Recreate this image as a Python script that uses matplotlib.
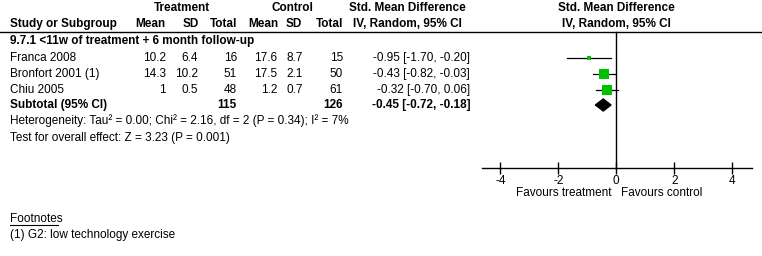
import matplotlib
matplotlib.use("Agg")
import matplotlib.pyplot as plt
from matplotlib.patches import Polygon

plt.rcParams['font.family'] = ['Liberation Sans', 'DejaVu Sans']

studies = ["Franca 2008", "Bronfort 2001 (1)", "Chiu 2005"]
t_mean = ["10.2", "14.3", "1"]
t_sd = ["6.4", "10.2", "0.5"]
t_n = [16, 51, 48]
c_mean = ["17.6", "17.5", "1.2"]
c_sd = ["8.7", "2.1", "0.7"]
c_n = [15, 50, 61]
smd = [-0.95, -0.43, -0.32]
lo = [-1.70, -0.82, -0.70]
hi = [-0.20, -0.03, 0.06]
weight = [17.0, 40.0, 44.0]
sub_smd, sub_lo, sub_hi = -0.45, -0.72, -0.18
sub_t_n, sub_c_n = 115, 126
xticks = [-4, -2, 0, 2, 4]

W, H = 762, 256
fig = plt.figure(figsize=(W / 100, H / 100), dpi=100)
fig.patch.set_facecolor("white")

# text layer in pixel coords
tx = fig.add_axes([0, 0, 1, 1])
tx.set_xlim(0, W)
tx.set_ylim(H, 0)
tx.axis("off")

fs = 8.5
def t(x, y, s, ha="left", bold=False, **kw):
    tx.text(x, y, s, ha=ha, va="center", fontsize=fs,
            fontweight="bold" if bold else "normal", **kw)

# headers
t(182, 8, "Treatment", ha="center", bold=True)
t(292, 8, "Control", ha="center", bold=True)
t(407, 8, "Std. Mean Difference", ha="center", bold=True)
t(616, 8, "Std. Mean Difference", ha="center", bold=True)
t(10, 24, "Study or Subgroup", bold=True)
t(165, 24, "Mean", ha="right", bold=True)
t(199, 24, "SD", ha="right", bold=True)
t(237, 24, "Total", ha="right", bold=True)
t(278, 24, "Mean", ha="right", bold=True)
t(302, 24, "SD", ha="right", bold=True)
t(343, 24, "Total", ha="right", bold=True)
t(407, 24, "IV, Random, 95% CI", ha="center", bold=True)
t(616, 24, "IV, Random, 95% CI", ha="center", bold=True)
tx.plot([0, W], [32, 32], color="black", lw=1)

t(10, 41, "9.7.1 <11w of treatment + 6 month follow-up", bold=True)

row_y = [58, 74, 90]
for i, y in enumerate(row_y):
    t(10, y, studies[i])
    t(166, y, t_mean[i], ha="right")
    t(198, y, t_sd[i], ha="right")
    t(237, y, str(t_n[i]), ha="right")
    t(277, y, c_mean[i], ha="right")
    t(303, y, c_sd[i], ha="right")
    t(343, y, str(c_n[i]), ha="right")
    t(470, y, f"{smd[i]:.2f} [{lo[i]:.2f}, {hi[i]:.2f}]", ha="right")

t(10, 105, "Subtotal (95% CI)", bold=True)
t(237, 105, str(sub_t_n), ha="right", bold=True)
t(343, 105, str(sub_c_n), ha="right", bold=True)
t(470, 105, f"{sub_smd:.2f} [{sub_lo:.2f}, {sub_hi:.2f}]", ha="right", bold=True)

t(10, 121, "Heterogeneity: Tau\u00b2 = 0.00; Chi\u00b2 = 2.16, df = 2 (P = 0.34); I\u00b2 = 7%")
t(10, 138, "Test for overall effect: Z = 3.23 (P = 0.001)")

t(10, 219, "Footnotes")
tx.plot([10, 58], [225, 225], color="black", lw=0.8)
t(10, 235, "(1) G2: low technology exercise")

# forest axes: x in SMD units, y in pixel rows
x0, x1 = 482, 752
scale = 29.0
zero = 616.3
ax = fig.add_axes([x0 / W, 0, (x1 - x0) / W, 1])
ax.set_xlim((x0 - zero) / scale, (x1 - zero) / scale)
ax.set_ylim(H, 0)
ax.patch.set_alpha(0)
for s in ["top", "right", "left"]:
    ax.spines[s].set_visible(False)
ax.spines["bottom"].set_position(("data", 168))
ax.spines["bottom"].set_linewidth(1)
ax.set_yticks([])
ax.set_xticks(xticks)
ax.set_xticklabels([str(v) for v in xticks], fontsize=fs)
ax.tick_params(axis="x", direction="inout", length=9, width=1, pad=0.5)

ax.plot([0, 0], [32, 168], color="black", lw=1)
for i, y in enumerate(row_y):
    ax.plot([lo[i], hi[i]], [y, y], color="black", lw=0.9)
    ax.plot(smd[i], y, marker="s", color="#00C000", markersize=0.165 * weight[i],
            markeredgewidth=0, linestyle="none")
dy = 105
diamond = Polygon([[sub_lo, dy], [sub_smd, dy - 6], [sub_hi, dy], [sub_smd, dy + 6]],
                  closed=True, color="black")
ax.add_patch(diamond)

ax.text(-0.15, 193, "Favours treatment", ha="right", va="center", fontsize=fs)
ax.text(0.15, 193, "Favours control", ha="left", va="center", fontsize=fs)

fig.savefig("out.png", dpi=100, facecolor="white")
